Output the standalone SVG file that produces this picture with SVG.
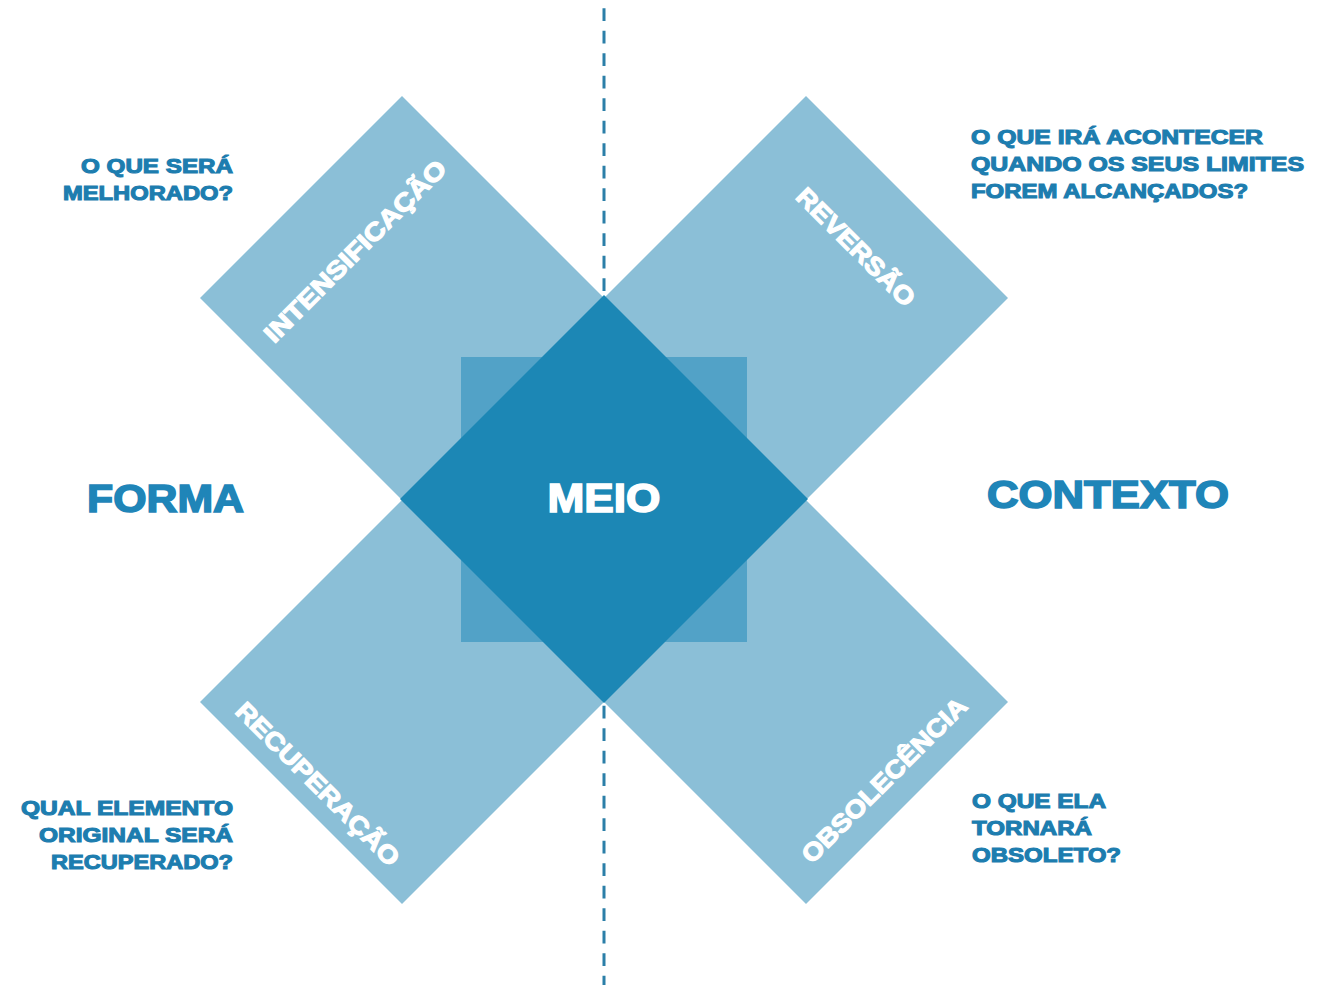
<svg xmlns="http://www.w3.org/2000/svg" width="1317" height="985" viewBox="0 0 1317 985">
<style>
.bg{fill:#ffffff}
.light{fill:#8BBFD7}
.mid{fill:#52A2C7}
.dark{fill:#1C87B5}
.lbl{font-family:"Liberation Sans",Arial,sans-serif;font-weight:bold;fill:#ffffff;stroke:#ffffff;stroke-width:1.2;font-size:25px}
.q{font-family:"Liberation Sans",Arial,sans-serif;font-weight:bold;fill:#1D7DAF;stroke:#1D7DAF;stroke-width:1.1;font-size:20px}
.big{font-family:"Liberation Sans",Arial,sans-serif;font-weight:bold;fill:#1F85B8;stroke:#1F85B8;stroke-width:1.6;font-size:39px}
.meio{font-family:"Liberation Sans",Arial,sans-serif;font-weight:bold;fill:#ffffff;stroke:#ffffff;stroke-width:1.6;font-size:40px}
.dash{stroke:#2B7FA8;stroke-width:3;stroke-dasharray:12.7 9.8;stroke-dashoffset:14.2;fill:none}
</style>
<rect class="bg" x="0" y="0" width="1317" height="985"/>
<g id="connectors">
<line class="dash" x1="604" y1="0" x2="604" y2="985"/>
</g>
<g id="intensificacao">
<polygon class="light" points="200,298 402,96 604,298 402,500"/>
</g>
<g id="reversao">
<polygon class="light" points="604,298 806,96 1008,298 806,500"/>
</g>
<g id="recuperacao">
<polygon class="light" points="200,702 402,500 604,702 402,904"/>
</g>
<g id="obsolescencia">
<polygon class="light" points="604,702 806,500 1008,702 806,904"/>
</g>
<g id="meio">
<rect class="mid" x="461" y="357" width="286" height="285"/>
<polygon class="dark" points="604,295 808,499 604,703 400,499"/>
<text class="meio" x="604" y="512" text-anchor="middle" textLength="113" lengthAdjust="spacingAndGlyphs">MEIO</text>
</g>
<g id="intensificacao-label">
<text class="lbl" transform="translate(355,251) rotate(-45)" x="0" y="8.8" text-anchor="middle" textLength="246" lengthAdjust="spacingAndGlyphs">INTENSIFICAÇÃO</text>
</g>
<g id="reversao-label">
<text class="lbl" transform="translate(856,247) rotate(45)" x="0" y="8.8" text-anchor="middle" textLength="156" lengthAdjust="spacingAndGlyphs">REVERSÃO</text>
</g>
<g id="recuperacao-label">
<text class="lbl" transform="translate(318,784) rotate(45)" x="0" y="8.8" text-anchor="middle" textLength="220" lengthAdjust="spacingAndGlyphs">RECUPERAÇÃO</text>
</g>
<g id="obsolescencia-label">
<text class="lbl" transform="translate(884,780) rotate(-45)" x="0" y="8.8" text-anchor="middle" textLength="222" lengthAdjust="spacingAndGlyphs">OBSOLECÊNCIA</text>
</g>
<g id="forma">
<text class="big" x="165.5" y="512" text-anchor="middle" textLength="157" lengthAdjust="spacingAndGlyphs">FORMA</text>
</g>
<g id="contexto">
<text class="big" x="1108" y="508" text-anchor="middle" textLength="242" lengthAdjust="spacingAndGlyphs">CONTEXTO</text>
</g>
<g id="q-melhorado">
<text class="q" x="233" y="173" text-anchor="end" textLength="152" lengthAdjust="spacingAndGlyphs">O QUE SERÁ</text>
<text class="q" x="233" y="200" text-anchor="end" textLength="170" lengthAdjust="spacingAndGlyphs">MELHORADO?</text>
</g>
<g id="q-limites">
<text class="q" x="971" y="144" textLength="292" lengthAdjust="spacingAndGlyphs">O QUE IRÁ ACONTECER</text>
<text class="q" x="971" y="171" textLength="333" lengthAdjust="spacingAndGlyphs">QUANDO OS SEUS LIMITES</text>
<text class="q" x="971" y="198" textLength="277" lengthAdjust="spacingAndGlyphs">FOREM ALCANÇADOS?</text>
</g>
<g id="q-recuperado">
<text class="q" x="233" y="815" text-anchor="end" textLength="212" lengthAdjust="spacingAndGlyphs">QUAL ELEMENTO</text>
<text class="q" x="233" y="842" text-anchor="end" textLength="194" lengthAdjust="spacingAndGlyphs">ORIGINAL SERÁ</text>
<text class="q" x="233" y="869" text-anchor="end" textLength="182" lengthAdjust="spacingAndGlyphs">RECUPERADO?</text>
</g>
<g id="q-obsoleto">
<text class="q" x="972" y="808" textLength="134" lengthAdjust="spacingAndGlyphs">O QUE ELA</text>
<text class="q" x="972" y="835" textLength="120" lengthAdjust="spacingAndGlyphs">TORNARÁ</text>
<text class="q" x="972" y="862" textLength="149" lengthAdjust="spacingAndGlyphs">OBSOLETO?</text>
</g>
</svg>
